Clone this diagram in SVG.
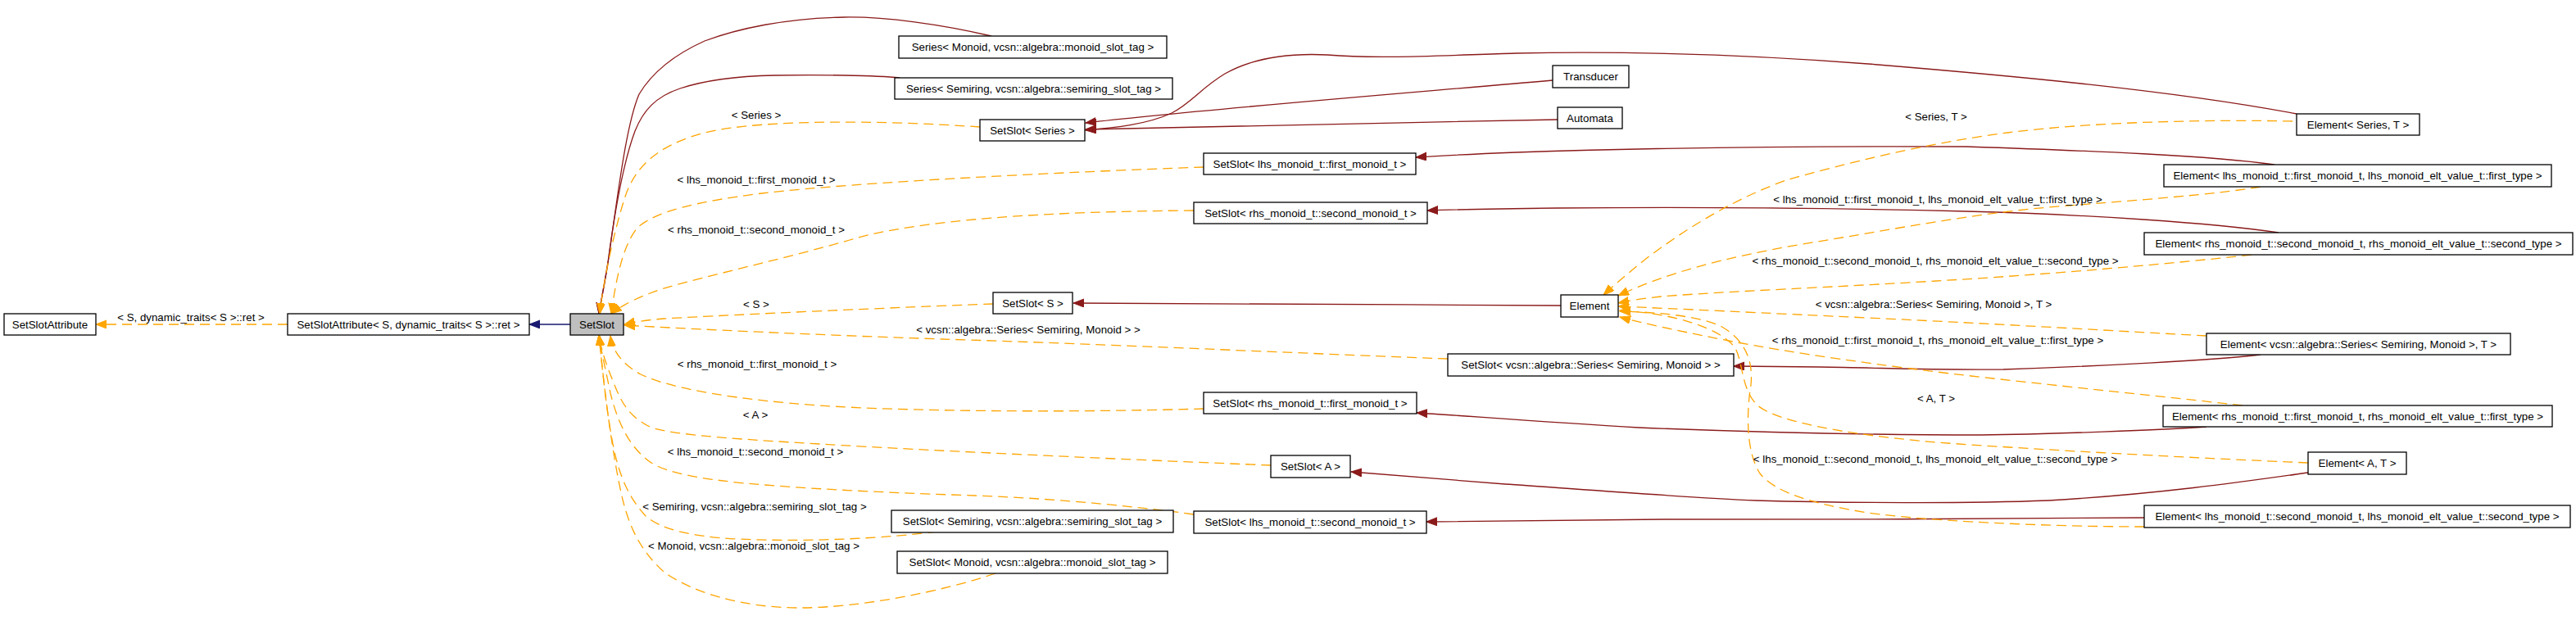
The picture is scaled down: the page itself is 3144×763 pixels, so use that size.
<svg xmlns="http://www.w3.org/2000/svg" width="3144" height="763" viewBox="0 0 3144 763">
<style>
text{font-family:"Liberation Sans",Arial,Helvetica,sans-serif;font-size:13.3px;fill:#000}
.n rect{fill:#fff;stroke:#000;stroke-width:1.3}
.n text,.lbl{text-anchor:middle}
.eo{fill:none;stroke:#FFA500;stroke-width:1.3;stroke-dasharray:12 7}
.er{fill:none;stroke:#8B1A1A;stroke-width:1.3}
.eb{fill:none;stroke:#191970;stroke-width:1.3}
</style>
<defs>
<marker id="aO" markerUnits="userSpaceOnUse" markerWidth="14" markerHeight="11" refX="13" refY="5" orient="auto"><path d="M0,0 L13,5 L0,10 z" fill="#FFA500" stroke="#FFA500" stroke-width="1"/></marker>
<marker id="aR" markerUnits="userSpaceOnUse" markerWidth="14" markerHeight="11" refX="13" refY="5" orient="auto"><path d="M0,0 L13,5 L0,10 z" fill="#8B1A1A" stroke="#8B1A1A" stroke-width="1"/></marker>
<marker id="aB" markerUnits="userSpaceOnUse" markerWidth="14" markerHeight="11" refX="13" refY="5" orient="auto"><path d="M0,0 L13,5 L0,10 z" fill="#191970" stroke="#191970" stroke-width="1"/></marker>
</defs>
<rect width="3144" height="763" fill="#fff"/>
<g id="connectors">
<!-- red (private inheritance) edges -->
<path class="er" marker-end="url(#aR)" d="M1210,44 C1150,30 1080,20 1030,21 C960,22 900,35 860,50 C820,68 795,90 780,115 C765,150 755,230 745,300 C740,340 733,370 731,383"/>
<path class="er" marker-end="url(#aR)" d="M1098,95 C1070,92 1000,91 945,92 C900,93 860,98 830,108 C800,118 785,135 775,160 C760,200 750,260 742,320 C737,350 733,370 731,383"/>
<path class="er" marker-end="url(#aR)" d="M1895,98 C1700,115 1450,135 1325,150"/>
<path class="er" marker-end="url(#aR)" d="M1901,146 C1700,150 1450,155 1325,158"/>
<path class="er" marker-end="url(#aR)" d="M2803,139 C2650,110 2450,92 2280,78 C2150,68 2000,62 1850,65 C1750,68 1680,72 1620,67 C1560,64 1520,76 1495,90 C1465,108 1455,125 1430,138 C1400,152 1360,156 1325,159"/>
<path class="er" marker-end="url(#aR)" d="M2776,201 C2700,190 2550,184 2400,179 C2200,178 2000,181 1850,186 C1800,188 1760,190 1728,192"/>
<path class="er" marker-end="url(#aR)" d="M2781,284 C2700,272 2550,262 2400,258 C2200,253 2000,253 1900,254 C1820,255 1770,256 1742,257"/>
<path class="er" marker-end="url(#aR)" d="M1905,373 C1700,372 1450,370 1310,370"/>
<path class="er" marker-end="url(#aR)" d="M2759,433 C2700,440 2560,447 2445,451 C2350,452 2300,449 2220,448 L2116,447"/>
<path class="er" marker-end="url(#aR)" d="M2693,521 C2640,525 2500,530 2418,531 C2300,531 2150,528 2000,522 C1880,515 1780,507 1729,504"/>
<path class="er" marker-end="url(#aR)" d="M2817,577 C2760,585 2640,603 2500,611 C2400,615 2250,614 2143,611 C2050,607 1900,595 1837,591 C1760,585 1700,580 1649,576"/>
<path class="er" marker-end="url(#aR)" d="M2617,632 C2450,634 2200,634 2031,634 C1900,635 1800,636 1741,637"/>
<!-- blue (public inheritance) -->
<path class="eb" marker-end="url(#aB)" d="M696,396 L646,396"/>
<!-- orange (template instance) edges -->
<path class="eo" marker-end="url(#aO)" d="M351,396 L117,396"/>
<path class="eo" marker-end="url(#aO)" d="M1196,155 C1080,147 930,145 860,162 C800,178 775,205 763,240 C750,280 737,340 732,383"/>
<path class="eo" marker-end="url(#aO)" d="M1469,204 C1300,210 1050,222 930,236 C850,246 800,258 778,278 C760,300 752,340 746,383"/>
<path class="eo" marker-end="url(#aO)" d="M1457,257 C1280,258 1120,268 1037,293 C960,315 870,335 810,352 C780,362 760,372 746,383"/>
<path class="eo" marker-end="url(#aO)" d="M1212,371 C1100,375 900,384 810,389 C785,391 770,394 762,396"/>
<path class="eo" marker-end="url(#aO)" d="M1767,438 C1650,434 1350,420 1150,414 C1000,409 850,402 762,397"/>
<path class="eo" marker-end="url(#aO)" d="M1469,499 C1300,504 1100,502 1000,495 C900,488 820,475 782,457 C760,445 747,428 745,410"/>
<path class="eo" marker-end="url(#aO)" d="M1551,568 C1400,562 1150,551 1000,542 C880,535 820,530 795,522 C770,510 760,495 750,470 C742,450 734,430 731,409"/>
<path class="eo" marker-end="url(#aO)" d="M1457,628 C1400,620 1300,609 1190,605 C1100,602 1000,598 909,590 C860,585 815,578 795,565 C770,548 755,520 745,480 C740,455 734,430 731,409"/>
<path class="eo" marker-end="url(#aO)" d="M1144,649 C1080,657 990,662 900,658 C840,655 805,645 788,630 C770,610 760,590 752,560 C742,520 736,460 731,409"/>
<path class="eo" marker-end="url(#aO)" d="M1215,700 C1150,722 1050,742 976,742 C900,742 840,720 810,698 C785,675 770,650 760,610 C748,560 738,480 731,409"/>
<path class="eo" marker-end="url(#aO)" d="M2798,148 C2700,146 2560,148 2450,162 C2350,175 2250,200 2180,220 C2110,245 2050,285 2010,315 C1985,335 1968,350 1957,360"/>
<path class="eo" marker-end="url(#aO)" d="M2759,228 C2700,238 2600,245 2500,253 C2400,262 2300,282 2200,298 C2100,315 2030,335 1975,361"/>
<path class="eo" marker-end="url(#aO)" d="M2748,311 C2650,322 2500,335 2363,343 C2250,350 2100,356 2027,362 C2000,365 1985,368 1975,370"/>
<path class="eo" marker-end="url(#aO)" d="M2693,410 C2600,405 2450,396 2280,388 C2150,382 2050,377 1975,374"/>
<path class="eo" marker-end="url(#aO)" d="M2737,495 C2650,485 2500,470 2380,456 C2250,440 2150,425 2080,410 C2030,400 1995,392 1977,387"/>
<path class="eo" marker-end="url(#aO)" d="M2817,565 C2700,560 2500,550 2363,540 C2250,530 2170,515 2145,495 C2125,475 2128,445 2118,425 C2100,400 2040,382 1977,379"/>
<path class="eo" marker-end="url(#aO)" d="M2617,643 C2500,643 2350,636 2280,626 C2210,615 2165,600 2148,578 C2130,550 2132,500 2137,470 C2140,440 2130,415 2100,398 C2070,385 2020,381 1977,380"/>
<!-- edge labels -->
<text class="lbl" x="233" y="392">&lt; S, dynamic_traits&lt; S &gt;::ret &gt;</text>
<text class="lbl" x="923" y="145">&lt; Series &gt;</text>
<text class="lbl" x="923" y="224">&lt; lhs_monoid_t::first_monoid_t &gt;</text>
<text class="lbl" x="923" y="285">&lt; rhs_monoid_t::second_monoid_t &gt;</text>
<text class="lbl" x="923" y="376">&lt; S &gt;</text>
<text class="lbl" x="1255" y="407">&lt; vcsn::algebra::Series&lt; Semiring, Monoid &gt; &gt;</text>
<text class="lbl" x="924" y="449">&lt; rhs_monoid_t::first_monoid_t &gt;</text>
<text class="lbl" x="922" y="511">&lt; A &gt;</text>
<text class="lbl" x="922" y="556">&lt; lhs_monoid_t::second_monoid_t &gt;</text>
<text class="lbl" x="921" y="623">&lt; Semiring, vcsn::algebra::semiring_slot_tag &gt;</text>
<text class="lbl" x="920" y="671">&lt; Monoid, vcsn::algebra::monoid_slot_tag &gt;</text>
<text class="lbl" x="2363" y="147">&lt; Series, T &gt;</text>
<text class="lbl" x="2365" y="248">&lt; lhs_monoid_t::first_monoid_t, lhs_monoid_elt_value_t::first_type &gt;</text>
<text class="lbl" x="2362" y="323">&lt; rhs_monoid_t::second_monoid_t, rhs_monoid_elt_value_t::second_type &gt;</text>
<text class="lbl" x="2360" y="376">&lt; vcsn::algebra::Series&lt; Semiring, Monoid &gt;, T &gt;</text>
<text class="lbl" x="2365" y="420">&lt; rhs_monoid_t::first_monoid_t, rhs_monoid_elt_value_t::first_type &gt;</text>
<text class="lbl" x="2363" y="491">&lt; A, T &gt;</text>
<text class="lbl" x="2362" y="565">&lt; lhs_monoid_t::second_monoid_t, lhs_monoid_elt_value_t::second_type &gt;</text>
</g>
<g id="SetSlotAttribute" class="n"><rect x="5" y="383" width="112" height="26"/><text x="61" y="401">SetSlotAttribute</text></g>
<g id="SetSlotAttribute_S" class="n"><rect x="351" y="383" width="295" height="26"/><text x="498.5" y="401">SetSlotAttribute&lt; S, dynamic_traits&lt; S &gt;::ret &gt;</text></g>
<g id="SetSlot" class="n"><rect x="696" y="383" width="65" height="26" style="fill:#bfbfbf"/><text x="728.5" y="401">SetSlot</text></g>
<g id="Series_Monoid" class="n"><rect x="1097" y="44" width="327" height="27"/><text x="1260.5" y="62">Series&lt; Monoid, vcsn::algebra::monoid_slot_tag &gt;</text></g>
<g id="Series_Semiring" class="n"><rect x="1092" y="95" width="339" height="26"/><text x="1261.5" y="113">Series&lt; Semiring, vcsn::algebra::semiring_slot_tag &gt;</text></g>
<g id="SetSlot_Series" class="n"><rect x="1196" y="146" width="128" height="26"/><text x="1260" y="164">SetSlot&lt; Series &gt;</text></g>
<g id="SetSlot_lhs_first" class="n"><rect x="1469" y="187" width="259" height="26"/><text x="1598.5" y="205">SetSlot&lt; lhs_monoid_t::first_monoid_t &gt;</text></g>
<g id="SetSlot_rhs_second" class="n"><rect x="1457" y="247" width="285" height="26"/><text x="1599.5" y="265">SetSlot&lt; rhs_monoid_t::second_monoid_t &gt;</text></g>
<g id="SetSlot_S" class="n"><rect x="1212" y="357" width="97" height="26"/><text x="1260.5" y="375">SetSlot&lt; S &gt;</text></g>
<g id="SetSlot_vcsn_Series" class="n"><rect x="1767" y="432" width="349" height="27"/><text x="1941.5" y="450">SetSlot&lt; vcsn::algebra::Series&lt; Semiring, Monoid &gt; &gt;</text></g>
<g id="SetSlot_rhs_first" class="n"><rect x="1469" y="479" width="260" height="26"/><text x="1599" y="497">SetSlot&lt; rhs_monoid_t::first_monoid_t &gt;</text></g>
<g id="SetSlot_A" class="n"><rect x="1551" y="556" width="97" height="27"/><text x="1599.5" y="574">SetSlot&lt; A &gt;</text></g>
<g id="SetSlot_lhs_second" class="n"><rect x="1457" y="624" width="284" height="27"/><text x="1599" y="642">SetSlot&lt; lhs_monoid_t::second_monoid_t &gt;</text></g>
<g id="SetSlot_Semiring" class="n"><rect x="1088" y="623" width="344" height="27"/><text x="1260" y="641">SetSlot&lt; Semiring, vcsn::algebra::semiring_slot_tag &gt;</text></g>
<g id="SetSlot_Monoid" class="n"><rect x="1095" y="673" width="330" height="27"/><text x="1260" y="691">SetSlot&lt; Monoid, vcsn::algebra::monoid_slot_tag &gt;</text></g>
<g id="Transducer" class="n"><rect x="1895" y="80" width="93" height="27"/><text x="1941.5" y="98">Transducer</text></g>
<g id="Automata" class="n"><rect x="1901" y="131" width="79" height="26"/><text x="1940.5" y="149">Automata</text></g>
<g id="Element" class="n"><rect x="1905" y="360" width="70" height="27"/><text x="1940" y="378">Element</text></g>
<g id="Element_Series_T" class="n"><rect x="2803" y="139" width="150" height="26"/><text x="2878" y="157">Element&lt; Series, T &gt;</text></g>
<g id="Element_lhs_first" class="n"><rect x="2641" y="201" width="473" height="27"/><text x="2877.5" y="219">Element&lt; lhs_monoid_t::first_monoid_t, lhs_monoid_elt_value_t::first_type &gt;</text></g>
<g id="Element_rhs_second" class="n"><rect x="2617" y="284" width="523" height="27"/><text x="2878.5" y="302">Element&lt; rhs_monoid_t::second_monoid_t, rhs_monoid_elt_value_t::second_type &gt;</text></g>
<g id="Element_vcsn_Series_T" class="n"><rect x="2693" y="407" width="371" height="26"/><text x="2878.5" y="425">Element&lt; vcsn::algebra::Series&lt; Semiring, Monoid &gt;, T &gt;</text></g>
<g id="Element_rhs_first" class="n"><rect x="2640" y="495" width="475" height="26"/><text x="2877.5" y="513">Element&lt; rhs_monoid_t::first_monoid_t, rhs_monoid_elt_value_t::first_type &gt;</text></g>
<g id="Element_A_T" class="n"><rect x="2817" y="552" width="120" height="27"/><text x="2877" y="570">Element&lt; A, T &gt;</text></g>
<g id="Element_lhs_second" class="n"><rect x="2617" y="617" width="520" height="27"/><text x="2877" y="635">Element&lt; lhs_monoid_t::second_monoid_t, lhs_monoid_elt_value_t::second_type &gt;</text></g>
</svg>
